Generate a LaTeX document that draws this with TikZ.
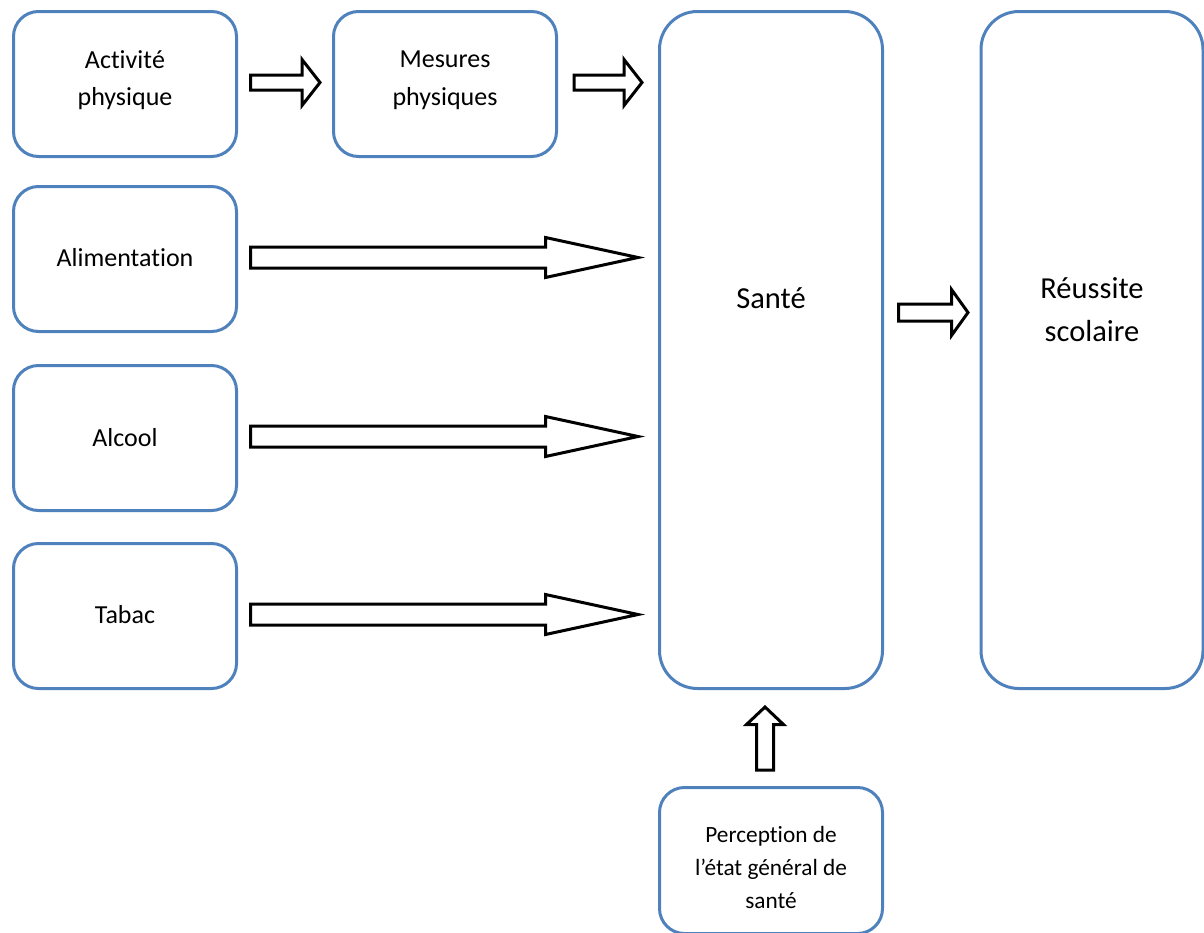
\documentclass[tikz,border=0pt]{standalone}
\usepackage{fontspec}
\setmainfont{Carlito}[Ligatures={NoCommon,NoContextual}]
\newcommand\nl{\kern0pt}
\definecolor{boxblue}{HTML}{4F81BD}
\tikzset{
  x=0.5pt, y=-0.5pt,
  box/.style={draw=boxblue, line width=1.5pt, fill=white, rounded corners=12.5pt,
    minimum width=111.5pt, minimum height=72.5pt, inner sep=0pt},
  tallbox/.style={box, rounded corners=19pt, minimum height=338.5pt},
  lbl/.style={align=center, inner sep=0pt, font=\fontsize{13}{18.75}\selectfont},
  biglbl/.style={align=center, inner sep=0pt, font=\fontsize{15.25}{21.5}\selectfont},
  smalllbl/.style={align=center, inner sep=0pt, font=\fontsize{11.65}{16.5}\selectfont},
  barrow/.style={draw=black, line width=1.5pt, fill=white, line join=miter},
}
\begin{document}
\begin{tikzpicture}
\useasboundingbox (0,0) rectangle (1204,932);
% boxes
\node[box] (act) at (125,84) {};
\node[box] (mes) at (445,84) {};
\node[box] (ali) at (125,259) {};
\node[box] (alc) at (125,438) {};
\node[box] (tab) at (125,616) {};
\node[tallbox] (san) at (771,350) {};
\node[tallbox, minimum width=111pt] (reu) at (1092,350) {};
\node[box, minimum height=73pt] (per) at (771,860.5) {};
% labels
\node[lbl] (actt) at (125,80) {Act\nl ivit\nl é\\physique};
\node[lbl] (mest) at (445,80) {Mesures\\physiques};
\node[lbl] (alit) at (125,258) {Alimentat\nl ion};
\node[lbl] (alct) at (125,438) {Alcool};
\node[lbl] (tabt) at (125,615) {Tabac};
\node[biglbl] (sant) at (771,298) {Santé};
\node[biglbl] (reut) at (1092,309.5) {Réussite\\scolaire};
\node[smalllbl] (pert) at (771,867) {Percept\nl ion de\\l’état général de\\santé};
% block arrows
\draw[barrow] (250.5,75) -- (302,75) -- (302,59.5) -- (320,82.5) -- (302,105.5) -- (302,90) -- (250.5,90) -- cycle;
\draw[barrow] (574,75) -- (624,75) -- (624,59.5) -- (642,82.5) -- (624,105.5) -- (624,90) -- (574,90) -- cycle;
\foreach \yc in {257.5,436.5,614.5}{
  \draw[barrow] (250.5,\yc-10.5) -- (545.5,\yc-10.5) -- (545.5,\yc-20) -- (638,\yc) -- (545.5,\yc+20) -- (545.5,\yc+10.5) -- (250.5,\yc+10.5) -- cycle;
}
\draw[barrow] (898.5,304) -- (951.5,304) -- (951.5,289.5) -- (968,312.5) -- (951.5,335.5) -- (951.5,321) -- (898.5,321) -- cycle;
\draw[barrow] (756.5,770) -- (756.5,724.5) -- (746.5,724.5) -- (765,707) -- (783.5,724.5) -- (773.5,724.5) -- (773.5,770) -- cycle;
\end{tikzpicture}
\end{document}
